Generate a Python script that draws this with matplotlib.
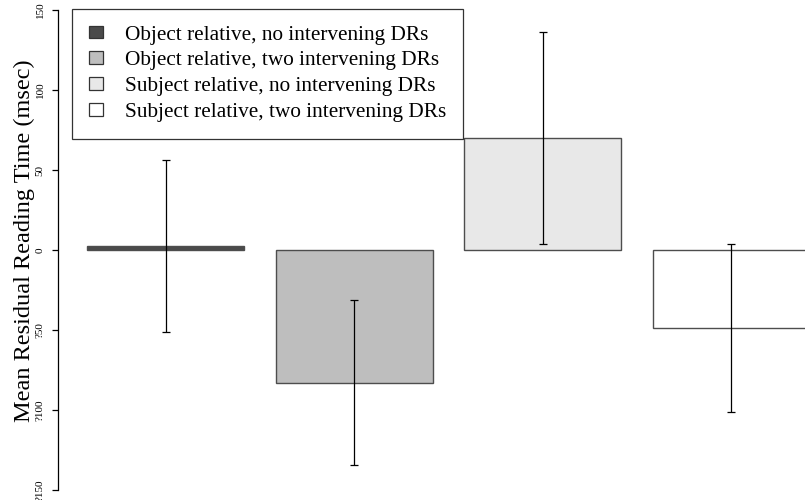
import matplotlib
matplotlib.use('Agg')
import matplotlib.pyplot as plt
from matplotlib.patches import Patch

plt.rcParams['font.family'] = ['Liberation Serif', 'DejaVu Serif']

conditions = ['Object relative, no intervening DRs',
              'Object relative, two intervening DRs',
              'Subject relative, no intervening DRs',
              'Subject relative, two intervening DRs']
means = [2.5, -83, 70, -48.5]
errors = [54, 51.5, 66, 52.5]
colors = ['#4a4a4a', '#bebebe', '#e8e8e8', '#ffffff']
yticks = [-150, -100, -50, 0, 50, 100, 150]
ytick_labels = ['?150', '?100', '?50', '0', '50', '100', '150']

fig = plt.figure(figsize=(8.05, 5), dpi=100)
ax = fig.add_axes([58 / 805, 10 / 500, 781 / 805, 480 / 500])

xpos = [0.7 + 1.2 * i for i in range(len(means))]
ax.bar(xpos, means, width=1.0, color=colors, edgecolor='#4d4d4d', linewidth=1.0)
ax.errorbar(xpos, means, yerr=errors, fmt='none', ecolor='black',
            elinewidth=0.9, capsize=2.6, capthick=0.9)

ax.set_xlim(0.016, 4.984)
ax.set_ylim(-150, 150)
for s in ['top', 'right', 'bottom']:
    ax.spines[s].set_visible(False)
ax.spines['left'].set_linewidth(0.9)
ax.set_xticks([])
ax.set_yticks(yticks)
ax.set_yticklabels(ytick_labels, rotation=90, va='center', fontsize=8)
ax.tick_params(axis='y', length=4.5, width=0.9, pad=5)

ax.set_ylabel('Mean Residual Reading Time (msec)', fontsize=17.5)
ax.yaxis.set_label_coords(-23 / 781, 0.52)

handles = [Patch(facecolor=c, edgecolor='#333333', linewidth=0.9) for c in colors]
leg = ax.legend(handles, conditions, loc='upper left',
                bbox_to_anchor=(14 / 781, 1.002), fontsize=15.3,
                frameon=True, fancybox=False, edgecolor='black',
                handlelength=0.7, handleheight=0.55, handletextpad=1.0,
                labelspacing=0.32, borderpad=0.78, borderaxespad=0)
leg.get_frame().set_linewidth(0.9)

fig.savefig('out.png', dpi=100)
